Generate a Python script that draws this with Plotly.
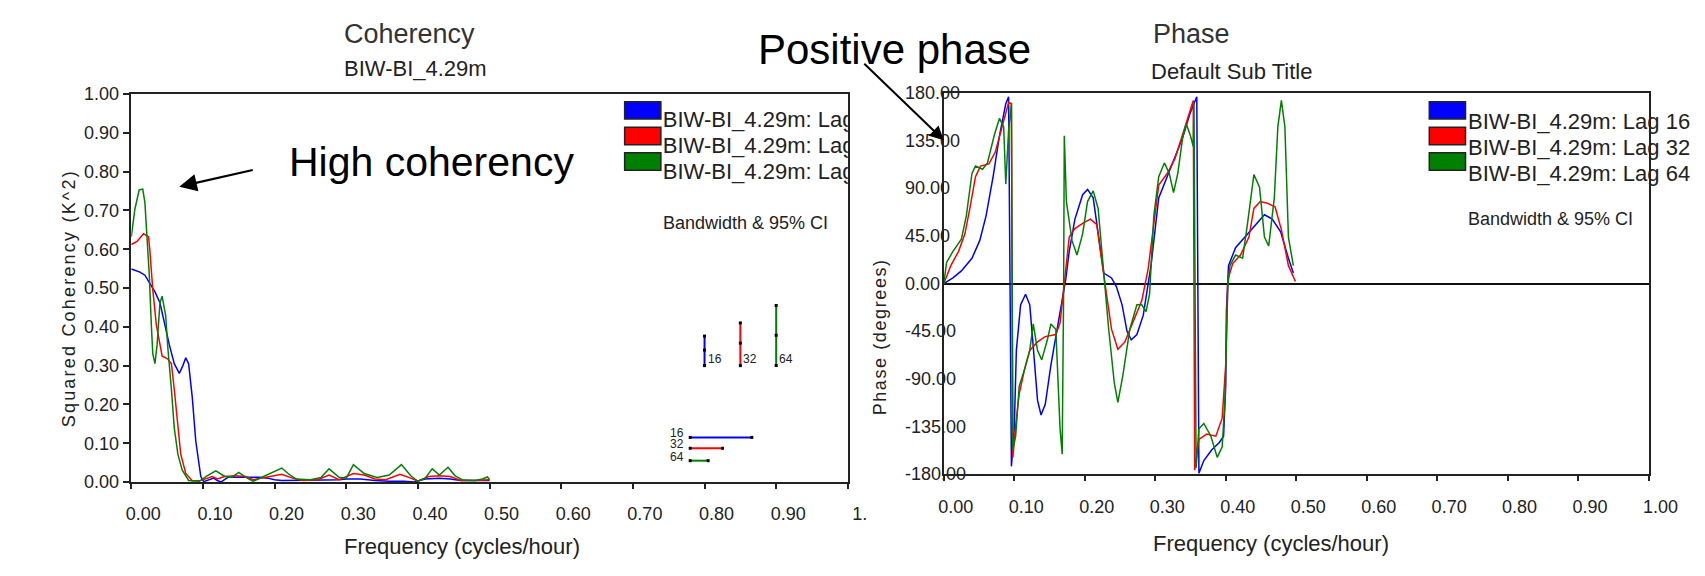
import plotly.graph_objects as go

W, H = 1705, 576

# ---------------- data ----------------
coh_lag16_x = [0.000, 0.012, 0.019, 0.026, 0.033, 0.040, 0.046, 0.053, 0.060, 0.067, 0.072, 0.076, 0.080,
               0.085, 0.090, 0.097, 0.101, 0.110, 0.115, 0.120, 0.125, 0.135, 0.150, 0.165, 0.180, 0.190,
               0.200, 0.210, 0.230, 0.250, 0.270, 0.290, 0.300, 0.320, 0.340, 0.360, 0.380, 0.395, 0.410,
               0.430, 0.445, 0.460, 0.480, 0.500]
coh_lag16_y = [0.549, 0.541, 0.533, 0.510, 0.490, 0.462, 0.410, 0.354, 0.305, 0.280, 0.300, 0.320, 0.305,
               0.220, 0.105, 0.014, 0.001, 0.008, 0.010, 0.004, 0.000, 0.012, 0.012, 0.012, 0.012, 0.010,
               0.006, 0.004, 0.004, 0.004, 0.005, 0.006, 0.008, 0.008, 0.004, 0.002, 0.002, 0.000, 0.008,
               0.010, 0.008, 0.004, 0.004, 0.004]

coh_lag32_x = [0.000, 0.008, 0.017, 0.024, 0.026, 0.030, 0.035, 0.040, 0.043, 0.051, 0.056, 0.060, 0.065,
               0.069, 0.076, 0.085, 0.095, 0.105, 0.113, 0.120, 0.130, 0.145, 0.160, 0.170, 0.185, 0.200,
               0.210, 0.225, 0.240, 0.260, 0.276, 0.290, 0.310, 0.325, 0.340, 0.355, 0.375, 0.390, 0.400,
               0.415, 0.430, 0.445, 0.460, 0.480, 0.500]
coh_lag32_y = [0.612, 0.620, 0.640, 0.632, 0.595, 0.495, 0.404, 0.354, 0.325, 0.317, 0.305, 0.238, 0.155,
               0.072, 0.022, 0.003, 0.003, 0.010, 0.014, 0.008, 0.014, 0.016, 0.014, 0.006, 0.012, 0.018,
               0.020, 0.010, 0.004, 0.006, 0.018, 0.006, 0.022, 0.018, 0.008, 0.006, 0.020, 0.010, 0.002,
               0.014, 0.016, 0.014, 0.004, 0.004, 0.006]

coh_lag64_x = [0.000, 0.005, 0.011, 0.016, 0.019, 0.022, 0.025, 0.028, 0.030, 0.033, 0.036, 0.040, 0.043,
               0.048, 0.051, 0.056, 0.060, 0.065, 0.071, 0.080, 0.095, 0.105, 0.118, 0.130, 0.140, 0.150,
               0.160, 0.170, 0.185, 0.200, 0.210, 0.220, 0.230, 0.250, 0.265, 0.276, 0.290, 0.300, 0.310,
               0.325, 0.343, 0.360, 0.377, 0.390, 0.400, 0.410, 0.420, 0.430, 0.442, 0.452, 0.463, 0.480,
               0.490, 0.497, 0.500]
coh_lag64_y = [0.632, 0.703, 0.753, 0.755, 0.720, 0.637, 0.537, 0.404, 0.330, 0.305, 0.354, 0.462, 0.479,
               0.429, 0.346, 0.238, 0.139, 0.072, 0.031, 0.004, 0.002, 0.015, 0.029, 0.015, 0.012, 0.025,
               0.012, 0.002, 0.014, 0.028, 0.036, 0.020, 0.008, 0.006, 0.012, 0.034, 0.012, 0.010, 0.045,
               0.022, 0.012, 0.018, 0.045, 0.016, 0.002, 0.010, 0.034, 0.018, 0.038, 0.016, 0.005, 0.004,
               0.008, 0.013, 0.006]

ph_lag16_x = [0.000, 0.013, 0.025, 0.040, 0.051, 0.060, 0.070, 0.079, 0.088, 0.092, 0.096, 0.100, 0.103,
              0.109, 0.116, 0.122, 0.127, 0.133, 0.138, 0.144, 0.152, 0.159, 0.167, 0.173, 0.178, 0.186,
              0.197, 0.204, 0.212, 0.219, 0.227, 0.238, 0.245, 0.253, 0.260, 0.266, 0.274, 0.283, 0.294,
              0.305, 0.317, 0.328, 0.339, 0.349, 0.356, 0.359, 0.362, 0.369, 0.380, 0.391, 0.397, 0.400,
              0.401, 0.404, 0.414, 0.429, 0.444, 0.455, 0.466, 0.478, 0.489, 0.496]
ph_lag16_y = [0, 5.4, 12, 24, 40.6, 64, 101, 139.6, 169.8, 176.5, -172.5, -137, -63,
              -20, -10, -20, -60, -110, -124, -114, -77, -50, -20, 3.7, 30.5, 60.7,
              84, 89, 81, 47, 10, 5.4, -3, -20, -45, -53, -48, -30, 17,
              81, 101, 118, 138, 160, 173, 176.5, -179, -167, -157, -150, -144, -97,
              -26, 17, 34, 45.6, 57, 65, 61, 49, 24, 10]

ph_lag32_x = [0.000, 0.010, 0.021, 0.030, 0.037, 0.045, 0.052, 0.064, 0.073, 0.081, 0.087, 0.092, 0.096,
              0.098, 0.102, 0.107, 0.115, 0.122, 0.133, 0.144, 0.159, 0.165, 0.171, 0.178, 0.186, 0.197,
              0.208, 0.217, 0.223, 0.231, 0.238, 0.247, 0.257, 0.268, 0.281, 0.290, 0.298, 0.305, 0.317,
              0.328, 0.339, 0.349, 0.354, 0.356, 0.362, 0.373, 0.386, 0.395, 0.400, 0.403, 0.410, 0.421,
              0.433, 0.440, 0.449, 0.459, 0.470, 0.479, 0.489, 0.499]
ph_lag32_y = [0, 17, 30.5, 47, 71, 101, 111, 113, 124, 145, 158, 171, 170,
              -164, -134, -104, -80, -63, -55, -50, -48, -37, 0, 44, 52, 57,
              61, 56, 27, -13, -43, -62, -55, -37, -16, 14, 57, 93, 104,
              118, 141, 161, 173, -176, -147, -142, -144, -127, -77, 3.7, 19, 27,
              44, 71, 77.5, 76, 72.5, 51, 17, 2]

ph_lag64_x = [0.000, 0.004, 0.013, 0.025, 0.032, 0.040, 0.045, 0.055, 0.062, 0.072, 0.079, 0.085, 0.088,
              0.092, 0.096, 0.098, 0.102, 0.107, 0.115, 0.122, 0.127, 0.133, 0.139, 0.147, 0.152, 0.159,
              0.165, 0.168, 0.170, 0.171, 0.174, 0.182, 0.189, 0.197, 0.204, 0.212, 0.219, 0.227, 0.234,
              0.242, 0.247, 0.254, 0.264, 0.274, 0.281, 0.287, 0.292, 0.298, 0.305, 0.313, 0.320, 0.326,
              0.332, 0.339, 0.344, 0.350, 0.354, 0.355, 0.358, 0.362, 0.369, 0.379, 0.388, 0.395, 0.399,
              0.403, 0.406, 0.414, 0.424, 0.431, 0.440, 0.448, 0.455, 0.461, 0.469, 0.474, 0.479, 0.484,
              0.489, 0.496]
ph_lag64_y = [0, 20, 30.5, 42, 64, 104, 111, 108, 114, 141, 156, 148, 94,
              145, 170, -157, -144, -97, -80, -63, -38, -63, -72, -53, -38, -43,
              -137, -161, -10, 139.6, 77.5, 40.6, 27, 47, 77.5, 87.6, 71, 7, -43,
              -94, -112, -87, -43, -20, -20, -26.5, -10, 64, 101, 114, 104, 86,
              104, 138, 151, 139.6, 129.5, 171, -174, -137, -132, -144, -164, -154, -110,
              -3, 17, 27, 24, 57, 103, 91, 44, 35.6, 81, 148, 173, 148,
              44, 17]

# bandwidth & 95% CI markers (coherency panel)
lag_labels = ["16", "32", "64"]
ci_x = [0.800, 0.850, 0.900]
ci_low = [0.300, 0.300, 0.300]
ci_mid = [0.340, 0.358, 0.378]
ci_high = [0.376, 0.410, 0.455]
bw_y = [0.115, 0.087, 0.055]
bw_start = [0.780, 0.780, 0.780]
bw_end = [0.866, 0.825, 0.805]

freq_ticks = [0.0, 0.1, 0.2, 0.3, 0.4, 0.5, 0.6, 0.7, 0.8, 0.9, 1.0]
freq_ticktext_left = ["0.00", "0.10", "0.20", "0.30", "0.40", "0.50", "0.60", "0.70", "0.80", "0.90", "1."]
freq_ticktext_right = ["0.00", "0.10", "0.20", "0.30", "0.40", "0.50", "0.60", "0.70", "0.80", "0.90", "1.00"]
coh_ticks = [0.0, 0.1, 0.2, 0.3, 0.4, 0.5, 0.6, 0.7, 0.8, 0.9, 1.0]
phase_ticks = [180, 135, 90, 45, 0, -45, -90, -135, -180]
phase_ticktext = ["180.00", "135.00", "90.00", "45.00", "0.00", "-45.00", "-90.00", "-135.00", "-180.00"]

series_names = ["BIW-BI_4.29m: Lag 16", "BIW-BI_4.29m: Lag 32", "BIW-BI_4.29m: Lag 64"]
colors = ["#0000FF", "#FF0000", "#008000"]

FONT = "Liberation Sans, Arial, sans-serif"

# pixel layout of the two panels
L0, L1, T0, B0 = 128, 860, 87, 489
R0, R1, T1, B1 = 958, 1678, 86, 481


def px(x):
    return x / W


def py(y):
    return 1 - y / H


fig = go.Figure()

coh = [(coh_lag16_x, coh_lag16_y), (coh_lag32_x, coh_lag32_y), (coh_lag64_x, coh_lag64_y)]
for (xs, ys), c, n in zip(coh, colors, series_names):
    fig.add_trace(go.Scatter(x=xs, y=ys, mode="lines", line=dict(color=c, width=1.5),
                             name=n, xaxis="x", yaxis="y", showlegend=False))

ph = [(ph_lag16_x, ph_lag16_y), (ph_lag32_x, ph_lag32_y), (ph_lag64_x, ph_lag64_y)]
for (xs, ys), c, n in zip(ph, colors, series_names):
    fig.add_trace(go.Scatter(x=xs, y=ys, mode="lines", line=dict(color=c, width=1.5),
                             name=n, xaxis="x2", yaxis="y2", showlegend=False))

# CI bars and bandwidth bars
for i in range(3):
    fig.add_trace(go.Scatter(x=[ci_x[i], ci_x[i]], y=[ci_low[i], ci_high[i]], mode="lines",
                             line=dict(color=colors[i], width=2), xaxis="x", yaxis="y",
                             showlegend=False, hoverinfo="skip"))
    fig.add_trace(go.Scatter(x=[ci_x[i], ci_x[i], ci_x[i]], y=[ci_low[i], ci_mid[i], ci_high[i]],
                             mode="markers", marker=dict(color="black", size=3, symbol="square"),
                             xaxis="x", yaxis="y", showlegend=False, hoverinfo="skip"))
    fig.add_trace(go.Scatter(x=[bw_start[i], bw_end[i]], y=[bw_y[i], bw_y[i]], mode="lines+markers",
                             line=dict(color=colors[i], width=2),
                             marker=dict(color="black", size=3, symbol="square"),
                             xaxis="x", yaxis="y", showlegend=False, hoverinfo="skip"))

# left legend text: drawn inside the coherency panel so that it is clipped at the frame
leg_rows_px = [116, 142.5, 169]
fig.add_trace(go.Scatter(
    x=[(671 - L0) / (L1 - L0)] * 3,
    y=[(B0 - r) / (B0 - T0) for r in leg_rows_px],
    mode="text", text=series_names, textposition="middle right",
    textfont=dict(family=FONT, size=22, color="#222"),
    xaxis="x", yaxis="y", showlegend=False, hoverinfo="skip", cliponaxis=True))

ax_common = dict(showgrid=False, showline=True, linecolor="#222", linewidth=1.5, mirror=True,
                 tickfont=dict(family=FONT, size=18, color="#222"), zeroline=False)

fig.update_layout(
    width=W, height=H, margin=dict(l=0, r=0, t=0, b=0),
    paper_bgcolor="white", plot_bgcolor="white", showlegend=False,
    xaxis=dict(domain=[px(L0), px(L1)], range=[0, 1], tickvals=freq_ticks, ticktext=freq_ticktext_left,
               ticks="outside", ticklen=5, tickcolor="#222", tickwidth=1.5, ticklabelshift=12,
               ticklabelstandoff=10, anchor="y", **ax_common),
    yaxis=dict(domain=[py(B0), py(T0)], range=[0, 1], tickvals=coh_ticks, tickformat=".2f",
               ticks="outside", ticklen=7, tickcolor="#222", tickwidth=1.5, anchor="x", **ax_common),
    xaxis2=dict(domain=[px(R0), px(R1)], range=[0, 1], tickvals=freq_ticks, ticktext=freq_ticktext_right,
                ticks="outside", ticklen=5, tickcolor="#222", tickwidth=1.5, ticklabelshift=12,
                ticklabelstandoff=10, anchor="y2", **ax_common),
    yaxis2=dict(domain=[py(B1), py(T1)], range=[-180, 180], tickvals=phase_ticks, showticklabels=False,
                ticks="", anchor="x2", showgrid=False, showline=True, linecolor="#222", linewidth=1.5,
                mirror=True, zeroline=True, zerolinecolor="#111", zerolinewidth=1.5),
)

ann = []
shapes = []


def text(x, y, s, size, xanchor="center", color="#222", angle=0):
    ann.append(dict(x=px(x), y=py(y), xref="paper", yref="paper", text=s, showarrow=False,
                    xanchor=xanchor, yanchor="middle", textangle=angle,
                    font=dict(family=FONT, size=size, color=color)))


# titles
text(412, 25, "Coherency", 27, color="#333")
text(418, 61, "BIW-BI_4.29m", 22)
text(1211, 25, "Phase", 27, color="#333")
text(1252, 64, "Default Sub Title", 22)
# axis titles
text(466, 556, "Frequency (cycles/hour)", 22)
text(1292, 553, "Frequency (cycles/hour)", 22)
text(64, 299, '<span style="letter-spacing:2.2px">Squared Coherency (K^2)</span>', 18, angle=-90)
text(893, 339, '<span style="letter-spacing:1.6px">Phase (degrees)</span>', 18, angle=-90)

# phase y tick labels (left aligned, straddling the axis)
for v, t in zip(phase_ticks, phase_ticktext):
    ann.append(dict(x=-0.058, xref="x2 domain", y=v, yref="y2", text=t, showarrow=False,
                    xanchor="left", yanchor="middle",
                    font=dict(family=FONT, size=18, color="#222")))

# legend swatches
for i in range(3):
    for bx in (632, 1454):
        top = 95 + i * 26.5
        shapes.append(dict(type="rect", xref="paper", yref="paper", x0=px(bx), x1=px(bx + 37),
                           y0=py(top + 18), y1=py(top), fillcolor=colors[i],
                           line=dict(color="#222", width=1.5)))
    text(1491, leg_rows_px[i], series_names[i], 22, xanchor="left")

text(669, 221, "Bandwidth &amp; 95% CI", 18, xanchor="left")
text(1492, 217, "Bandwidth &amp; 95% CI", 18, xanchor="left")

# small labels for bandwidth / CI
for i in range(3):
    ann.append(dict(x=bw_start[i], y=bw_y[i], xref="x", yref="y", text=lag_labels[i], showarrow=False,
                    xanchor="right", yanchor="bottom", xshift=-4, yshift=-5,
                    font=dict(family=FONT, size=12, color="#222")))
    ann.append(dict(x=ci_x[i], y=ci_low[i], xref="x", yref="y", text=lag_labels[i], showarrow=False,
                    xanchor="left", yanchor="bottom", xshift=1, yshift=-2,
                    font=dict(family=FONT, size=12, color="#222")))

# callouts
text(287, 157, "High coherency", 41, xanchor="left", color="black")
ann.append(dict(x=px(177), y=py(183), xref="paper", yref="paper", text="", showarrow=True,
                ax=75, ay=-17, arrowhead=2, arrowsize=1.6,
                arrowwidth=2.2, arrowcolor="black", standoff=0))
text(908, 41, "Positive phase", 42, color="black")
ann.append(dict(x=px(958), y=py(135), xref="paper", yref="paper", text="", showarrow=True,
                ax=-81, ay=-78, arrowhead=2, arrowsize=1.4, arrowwidth=2.0,
                arrowcolor="black", standoff=0))

fig.update_layout(annotations=ann, shapes=shapes)
fig.write_html("out.html", config={"displayModeBar": False},
               post_script="document.body.style.margin='0';document.body.style.overflow='hidden';")
